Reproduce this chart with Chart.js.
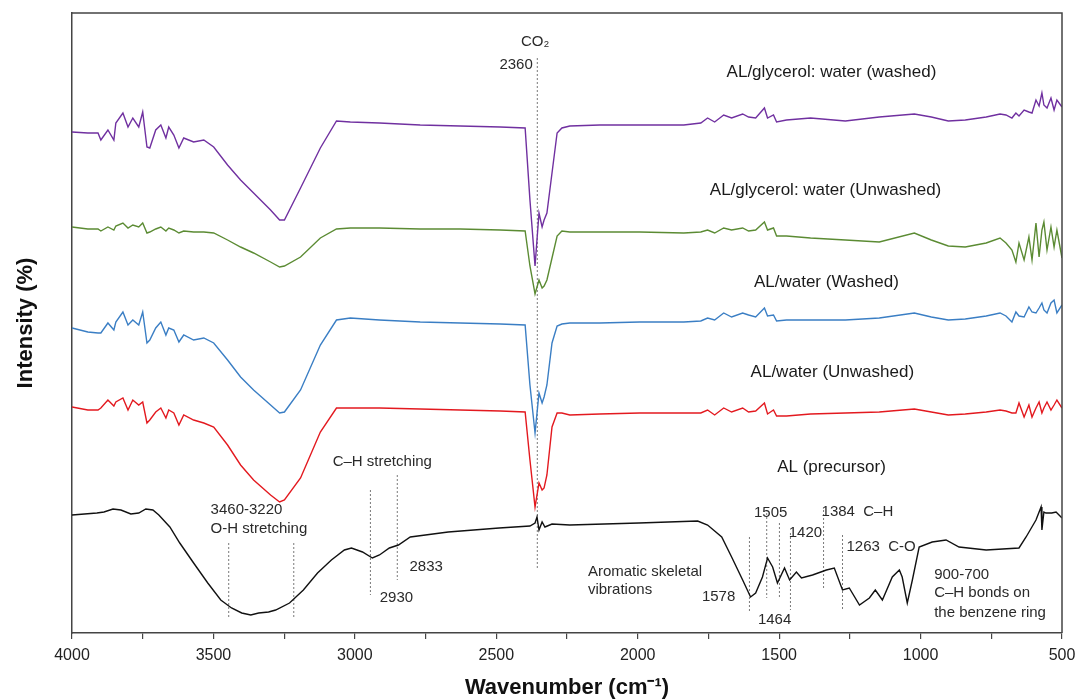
<!DOCTYPE html>
<html>
<head>
<meta charset="utf-8">
<script src="https://cdn.jsdelivr.net/npm/chart.js@4.4.0/dist/chart.umd.min.js"></script>
<style>
  html, body { margin: 0; padding: 0; background: #fff; }
  #wrap { width: 1076px; height: 700px; }
</style>
</head>
<body>
<div id="wrap"><canvas id="ftir" width="1076" height="700"></canvas></div>
<script>
// wavenumbers (cm-1) shared by the four treated samples
const wavenumbers = [
  4000, 3944, 3908, 3898, 3873, 3852, 3845, 3820, 3802, 3785,
  3764, 3750, 3735, 3725, 3704, 3686, 3668, 3658, 3640, 3622,
  3605, 3570, 3534, 3499, 3450, 3404, 3358, 3298, 3266, 3249,
  3192, 3122, 3065, 3016, 2913, 2769, 2628, 2486, 2398, 2381,
  2363, 2349, 2338, 2331, 2321, 2303, 2285, 2268, 2240, 2134,
  1993, 1837, 1777, 1753, 1728, 1696, 1668, 1629, 1608, 1583,
  1552, 1541, 1520, 1509, 1474, 1389, 1266, 1146, 1022, 962,
  902, 842, 768, 719, 698, 677, 663, 652, 634, 617,
  606, 592, 581, 571, 564, 553, 539, 528, 518, 500
]

// intensity (stacked, arbitrary offset)
const glycerolWashed = [
  50.1, 50.0, 50.0, 49.3, 50.3, 49.3, 51.0, 52.0, 50.6, 51.5,
  50.6, 52.1, 48.6, 48.5, 50.3, 50.8, 49.5, 50.6, 49.8, 48.5,
  49.5, 49.1, 49.3, 48.6, 46.8, 45.3, 44.0, 42.3, 41.3, 41.3,
  44.5, 48.5, 51.2, 51.1, 51.0, 50.8, 50.7, 50.6, 50.5, 43.3,
  36.7, 42.0, 40.6, 41.3, 42.0, 46.0, 50.0, 50.5, 50.7, 50.8,
  50.8, 50.8, 51.0, 51.5, 51.1, 51.8, 51.5, 51.9, 51.6, 51.5,
  52.5, 51.5, 51.8, 51.1, 51.3, 51.5, 51.2, 51.6, 51.9, 51.6,
  51.2, 51.3, 51.6, 51.9, 51.8, 51.5, 52.0, 51.7, 52.3, 52.1,
  52.0, 53.3, 52.7, 54.0, 52.8, 52.5, 53.5, 52.3, 53.3, 52.6
]
const glycerolUnwashed = [
  40.6, 40.4, 40.4, 40.2, 40.6, 40.3, 40.7, 41.0, 40.5, 40.8,
  40.6, 41.0, 40.0, 40.1, 40.4, 40.6, 40.2, 40.5, 40.3, 40.0,
  40.2, 40.1, 40.1, 40.0, 39.3, 38.6, 38.0, 37.1, 36.6, 36.7,
  37.6, 39.5, 40.4, 40.5, 40.5, 40.4, 40.4, 40.3, 40.2, 36.7,
  33.9, 35.3, 34.5, 34.7, 35.3, 37.5, 39.7, 40.2, 40.1, 40.1,
  40.1, 40.0, 40.1, 40.3, 40.0, 40.5, 40.3, 40.5, 40.2, 40.3,
  41.1, 40.3, 40.5, 39.7, 39.7, 39.5, 39.3, 39.1, 40.0, 39.3,
  38.7, 38.6, 39.0, 39.5, 39.0, 38.3, 37.1, 39.0, 37.3, 39.6,
  37.3, 41.0, 37.6, 40.3, 41.1, 38.3, 40.6, 38.6, 40.3, 37.5
]
const waterWashed = [
  30.5, 30.1, 30.0, 30.0, 31.0, 30.3, 31.1, 32.1, 30.8, 31.3,
  30.8, 32.1, 29.0, 29.3, 30.5, 31.1, 29.8, 30.5, 30.3, 29.1,
  29.8, 29.3, 29.5, 29.0, 27.3, 25.6, 24.3, 22.8, 22.0, 22.1,
  24.3, 28.8, 31.3, 31.5, 31.3, 31.1, 31.0, 30.9, 30.8, 24.8,
  20.0, 24.0, 23.0, 23.6, 24.8, 29.0, 30.7, 30.9, 31.0, 31.0,
  31.1, 31.1, 31.2, 31.5, 31.3, 32.0, 31.6, 32.0, 31.8, 31.6,
  32.5, 31.7, 31.8, 31.2, 31.3, 31.3, 31.3, 31.5, 32.0, 31.6,
  31.3, 31.4, 31.7, 32.0, 31.7, 31.1, 32.1, 31.7, 31.6, 32.6,
  32.1, 32.0, 32.5, 33.0, 32.3, 32.0, 33.0, 33.3, 32.0, 32.8
]
const waterUnwashed = [
  22.6, 22.3, 22.3, 22.5, 23.3, 22.7, 23.1, 23.5, 22.3, 23.3,
  22.8, 23.1, 21.0, 21.3, 22.1, 22.5, 21.5, 22.3, 22.0, 20.8,
  21.8, 21.3, 21.0, 20.6, 18.8, 16.8, 15.3, 13.8, 13.1, 13.3,
  15.5, 20.1, 22.5, 22.5, 22.5, 22.4, 22.3, 22.2, 22.1, 17.3,
  12.6, 15.0, 14.3, 14.5, 15.8, 20.6, 22.0, 22.0, 21.8, 21.9,
  22.0, 22.0, 22.0, 22.3, 21.8, 22.5, 22.1, 22.5, 22.1, 22.2,
  23.0, 21.9, 22.3, 21.7, 21.7, 21.9, 22.0, 22.1, 22.4, 22.1,
  21.8, 21.9, 22.1, 22.3, 22.2, 22.0, 22.0, 23.0, 21.6, 22.8,
  21.6, 22.5, 23.1, 22.0, 22.5, 23.1, 22.3, 22.8, 23.3, 22.5
]

// AL precursor has its own wavenumber points
const wnPrecursor = [
  4000, 3912, 3887, 3855, 3827, 3792, 3764, 3739, 3714, 3693,
  3654, 3619, 3570, 3520, 3474, 3436, 3400, 3368, 3340, 3305,
  3280, 3231, 3182, 3132, 3083, 3037, 3012, 2973, 2938, 2913,
  2878, 2846, 2804, 2670, 2490, 2381, 2363, 2356, 2349, 2338,
  2328, 2303, 2240, 1996, 1788, 1753, 1703, 1668, 1629, 1601,
  1583, 1559, 1541, 1523, 1506, 1481, 1463, 1439, 1421, 1382,
  1333, 1305, 1276, 1252, 1216, 1181, 1160, 1135, 1100, 1075,
  1065, 1047, 1029, 1005, 959, 910, 864, 768, 652, 627,
  592, 574, 571, 564, 557, 536, 521, 500
]
const precursor = [
  11.8, 12.0, 12.1, 12.4, 12.3, 11.9, 12.0, 12.4, 12.3, 11.8,
  10.6, 9.0, 7.0, 5.0, 3.3, 2.5, 2.0, 1.8, 2.0, 2.1,
  2.3, 3.0, 4.3, 6.0, 7.3, 8.3, 8.5, 8.1, 7.5, 7.8,
  8.5, 8.8, 9.6, 10.1, 10.5, 10.7, 11.0, 11.6, 10.3, 11.1,
  10.6, 10.9, 10.8, 11.0, 11.2, 10.8, 9.6, 7.6, 5.3, 3.6,
  4.0, 5.6, 7.5, 6.6, 5.0, 6.5, 5.3, 6.1, 5.5, 5.8,
  6.3, 6.5, 4.3, 4.5, 2.8, 3.5, 4.3, 3.3, 5.6, 6.3,
  5.6, 3.0, 5.3, 8.6, 9.1, 9.3, 8.6, 8.3, 8.5, 9.6,
  11.3, 12.6, 10.3, 12.1, 12.0, 12.0, 12.1, 11.5
]

// dashed peak markers (wavenumber, top and bottom intensity)
const markerWn = [2355, 3446, 3216, 2945, 2850, 1605, 1544, 1499, 1460, 1343, 1276]
const markerTop = [57.5, 9.0, 9.0, 14.3, 15.8, 9.6, 12.0, 11.0, 10.0, 12.3, 9.8]
const markerBottom = [6.3, 1.5, 1.5, 3.8, 5.3, 2.1, 3.5, 3.5, 2.3, 4.3, 2.3]

// sample names written next to the curves
const seriesNames = ['AL/glycerol: water (washed)', 'AL/glycerol: water (Unwashed)', 'AL/water (Washed)', 'AL/water (Unwashed)', 'AL (precursor)']
const seriesNameWn = [1315, 1336, 1333, 1312, 1315]
const seriesNameY = [56.1, 44.3, 35.1, 26.1, 16.6]

// band notes
const noteText = ['CO₂', '2360', 'C–H stretching', '3460-3220', 'O-H stretching', '2833', '2930',
  'Aromatic skeletal', 'vibrations', '1578', '1464', '1505', '1420', '1384  C–H', '1263  C-O',
  '900-700', 'C–H bonds on', 'the benzene ring']
const noteWn = [2363, 2430, 2903, 3510, 3510, 2748, 2853, 2176, 2176, 1714, 1516, 1530, 1407, 1350, 1262, 952, 952, 952]
const noteY = [59.1, 56.8, 17.1, 12.3, 10.4, 6.6, 3.5, 6.1, 4.3, 3.6, 1.3, 12.0, 10.0, 12.1, 8.6, 5.8, 4.0, 2.0]
const noteAlign = ['center', 'center', 'center', 'left', 'left', 'center', 'center', 'left', 'left',
  'center', 'center', 'center', 'center', 'left', 'left', 'left', 'left', 'left']

const colors = ['#7030a0', '#5b8b33', '#3a7ec4', '#e3191f', '#111111']

function points(xs, ys) {
  return xs.map((x, i) => ({ x: x, y: ys[i] }))
}

let datasets = [
  points(wavenumbers, glycerolWashed),
  points(wavenumbers, glycerolUnwashed),
  points(wavenumbers, waterWashed),
  points(wavenumbers, waterUnwashed),
  points(wnPrecursor, precursor)
].map((d, i) => ({
  label: seriesNames[i],
  data: d,
  borderColor: colors[i],
  borderWidth: 1.4,
  pointRadius: 0,
  tension: 0
}))

for (let i = 0; i < markerWn.length; i++) {
  datasets.push({
    label: 'marker' + i,
    data: [{ x: markerWn[i], y: markerTop[i] }, { x: markerWn[i], y: markerBottom[i] }],
    borderColor: '#7a7a7a',
    borderWidth: 1,
    borderDash: [2, 2],
    pointRadius: 0
  })
}

// frame + texts
const notesPlugin = {
  id: 'notes',
  afterDatasetsDraw(chart) {
    const ctx = chart.ctx
    const a = chart.chartArea
    const sx = chart.scales.x
    const sy = chart.scales.y
    ctx.save()
    ctx.strokeStyle = '#444'
    ctx.lineWidth = 1.5
    ctx.beginPath()
    ctx.moveTo(a.left, a.top)
    ctx.lineTo(a.right, a.top)
    ctx.lineTo(a.right, a.bottom)
    ctx.stroke()

    ctx.textBaseline = 'middle'
    ctx.fillStyle = '#1a1a1a'
    ctx.font = '17px "Liberation Sans", Arial, sans-serif'
    ctx.textAlign = 'center'
    for (let i = 0; i < seriesNames.length; i++) {
      ctx.fillText(seriesNames[i], sx.getPixelForValue(seriesNameWn[i]), sy.getPixelForValue(seriesNameY[i]))
    }
    ctx.fillStyle = '#2a2a2a'
    ctx.font = '15px "Liberation Sans", Arial, sans-serif'
    for (let i = 0; i < noteText.length; i++) {
      ctx.textAlign = noteAlign[i]
      ctx.fillText(noteText[i], sx.getPixelForValue(noteWn[i]), sy.getPixelForValue(noteY[i]))
    }
    ctx.restore()
  }
}

new Chart(document.getElementById('ftir'), {
  type: 'line',
  data: { datasets: datasets },
  options: {
    responsive: false,
    animation: false,
    events: [],
    layout: { padding: { top: 13, right: 14, left: 0, bottom: 0 } },
    plugins: { legend: { display: false }, tooltip: { enabled: false } },
    scales: {
      x: {
        type: 'linear',
        reverse: true,
        min: 500,
        max: 4000,
        afterFit(scale) {
          scale.height = 67
          scale.paddingLeft = 0
          scale.paddingRight = 0
        },
        ticks: {
          stepSize: 250,
          autoSkip: false,
          maxRotation: 0,
          padding: 7,
          color: '#222',
          font: { family: '"Liberation Sans", Arial, sans-serif', size: 16 },
          callback: v => (v % 500 === 0 ? String(v) : '')
        },
        grid: { drawOnChartArea: false, tickLength: 6, color: '#444', lineWidth: 1.2 },
        border: { color: '#444', width: 1.5 },
        title: {
          display: true,
          text: 'Wavenumber (cm⁻¹)',
          color: '#111',
          padding: { top: 0, bottom: -1 },
          font: { family: '"Liberation Sans", Arial, sans-serif', size: 22, weight: 'bold' }
        }
      },
      y: {
        min: 0,
        max: 62,
        afterFit(scale) { scale.width = 72 },
        ticks: { display: false },
        grid: { display: false },
        border: { color: '#444', width: 1.5 },
        title: {
          display: true,
          text: 'Intensity (%)',
          color: '#111',
          padding: { top: 13, bottom: 0 },
          font: { family: '"Liberation Sans", Arial, sans-serif', size: 22, weight: 'bold' }
        }
      }
    }
  },
  plugins: [notesPlugin]
})
</script>
</body>
</html>
